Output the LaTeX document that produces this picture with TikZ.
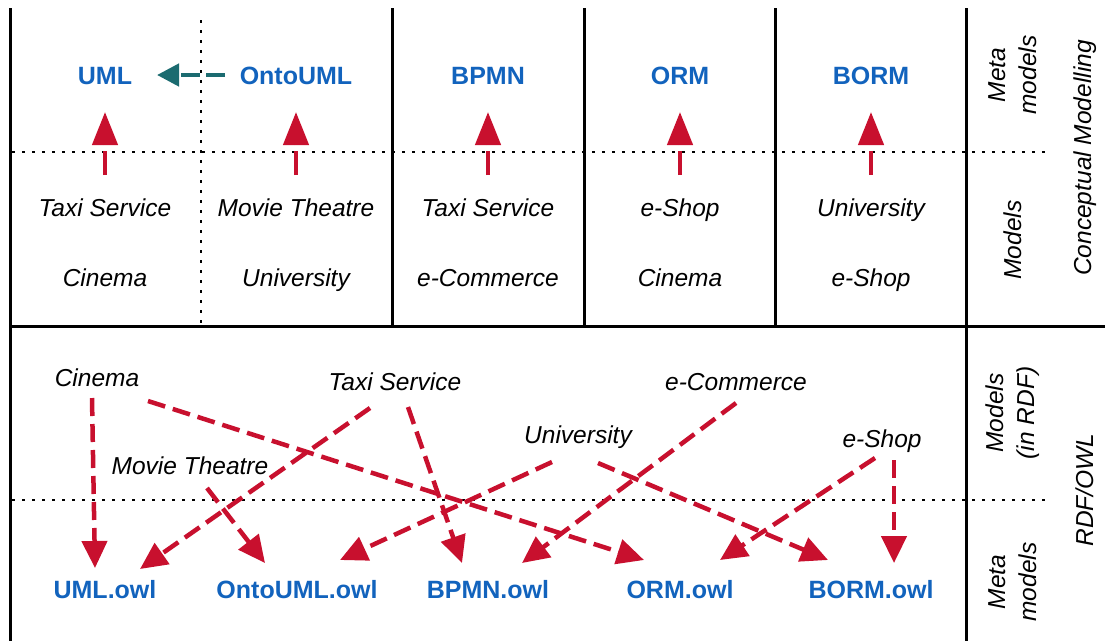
\documentclass[tikz,border=0pt]{standalone}
\usepackage{fontspec}
\setmainfont{Liberation Sans}
\usetikzlibrary{arrows.meta}
\definecolor{mblue}{RGB}{18,99,189}
\definecolor{mred}{RGB}{200,16,46}
\definecolor{mteal}{RGB}{27,107,112}
\begin{document}
\begin{tikzpicture}[x=1pt,y=-1pt,
  lab/.style={font=\itshape\fontsize{24.5}{28}\selectfont, inner sep=0pt, text height=17.5pt, text depth=0pt},
  side/.style={font=\itshape\fontsize{24.5}{31}\selectfont, inner sep=0pt, rotate=90, align=center},
  meta/.style={font=\bfseries\fontsize{25}{28}\selectfont, text=mblue, inner sep=0pt, text height=18pt, text depth=0pt},
  solidline/.style={line width=3pt},
  dotline/.style={line width=2.8pt, dash pattern=on 2.8pt off 7.2pt},
  redarrow/.style={mred, line width=4.5pt, dash pattern=on 18pt off 8pt, -{Triangle[length=27pt,width=25pt]}},
  redup/.style={mred, line width=4.5pt, dash pattern=on 24pt off 6pt, -{Triangle[length=33pt,width=25pt]}},
  tealarrow/.style={mteal, line width=4.5pt, dash pattern=on 19pt off 6pt, -{Triangle[length=22pt,width=22pt]}}
]
\useasboundingbox (0,0) rectangle (1105,641);
% grid lines
\draw[solidline] (10,8) -- (10,641);
\draw[solidline] (966,8) -- (966,641);
\foreach \x in {392,584,775} \draw[solidline] (\x,8) -- (\x,326);
\draw[solidline] (10,326) -- (1105,326);
\draw[dotline] (12,152) -- (1045,152);
\draw[dotline] (12,500) -- (1045,500);
\draw[dotline] (201,20) -- (201,326);

% meta models (top)
\node[meta] (uml) at (105,75) {UML};
\node[meta] (onto) at (296,75) {OntoUML};
\node[meta] (bpmn) at (488,75) {BPMN};
\node[meta] (orm) at (680,75) {ORM};
\node[meta] (borm) at (871,75) {BORM};

% models (top)
\node[lab] (t1) at (105,208) {Taxi Service};
\node[lab] (t2) at (296,208) {Movie Theatre};
\node[lab] (t3) at (488,208) {Taxi Service};
\node[lab] (t4) at (680,208) {e-Shop};
\node[lab] (t5) at (871,208) {University};
\node[lab] (b1) at (105,278) {Cinema};
\node[lab] (b2) at (296,278) {University};
\node[lab] (b3) at (488,278) {e-Commerce};
\node[lab] (b4) at (680,278) {Cinema};
\node[lab] (b5) at (871,278) {e-Shop};

% up arrows
\foreach \n/\x in {t1/105,t2/296,t3/488,t4/680,t5/871}{
  \coordinate (\n s) at (\x,175);
  \coordinate (\n e) at (\x,112);
  \draw[redup] (\n s) -- (\n e);
}
\coordinate (onteS) at (225,75);
\coordinate (umlE) at (157,75);
\draw[tealarrow] (onteS) -- (umlE);

% side labels
\node[side] (sm1) at (1013,75) {Meta\\models};
\node[side] (sm2) at (1013,240) {Models};
\node[side] (sm3) at (1085,158) {Conceptual Modelling};
\node[side] (sm4) at (1013,413) {Models\\(in RDF)};
\node[side] (sm5) at (1013,582) {Meta\\models};
\node[side] (sm6) at (1085,490) {RDF/OWL};

% bottom section models
\node[lab] (cin) at (97,378) {Cinema};
\node[lab] (taxi) at (395,382) {Taxi Service};
\node[lab] (ecom) at (736,382) {e-Commerce};
\node[lab] (univ) at (578,435) {University};
\node[lab] (movie) at (190,466) {Movie Theatre};
\node[lab] (eshop) at (882,439) {e-Shop};

% owl nodes
\node[meta] (umlo) at (105,589) {UML.owl};
\node[meta] (ontoo) at (297,589) {OntoUML.owl};
\node[meta] (bpmno) at (488,589) {BPMN.owl};
\node[meta] (ormo) at (680,589) {ORM.owl};
\node[meta] (bormo) at (871,589) {BORM.owl};

% connector endpoints
\coordinate (c1s) at (92,398);   \coordinate (c1e) at (95,568);
\coordinate (c2s) at (148,401);  \coordinate (c2e) at (644,560);
\coordinate (x1s) at (370,408);  \coordinate (x1e) at (140,569);
\coordinate (x2s) at (408,407);  \coordinate (x2e) at (462,563);
\coordinate (m1s) at (207,488);  \coordinate (m1e) at (265,563);
\coordinate (u1s) at (552,462);  \coordinate (u1e) at (340,560);
\coordinate (u2s) at (598,463);  \coordinate (u2e) at (828,560);
\coordinate (e1s) at (736,403);  \coordinate (e1e) at (522,563);
\coordinate (s1s) at (875,458);  \coordinate (s1e) at (720,560);
\coordinate (s2s) at (894,460);  \coordinate (s2e) at (894,563);

\foreach \a in {c1,c2,x1,x2,m1,u1,u2,e1,s1,s2}
  \draw[redarrow] (\a s) -- (\a e);
\end{tikzpicture}
\end{document}
